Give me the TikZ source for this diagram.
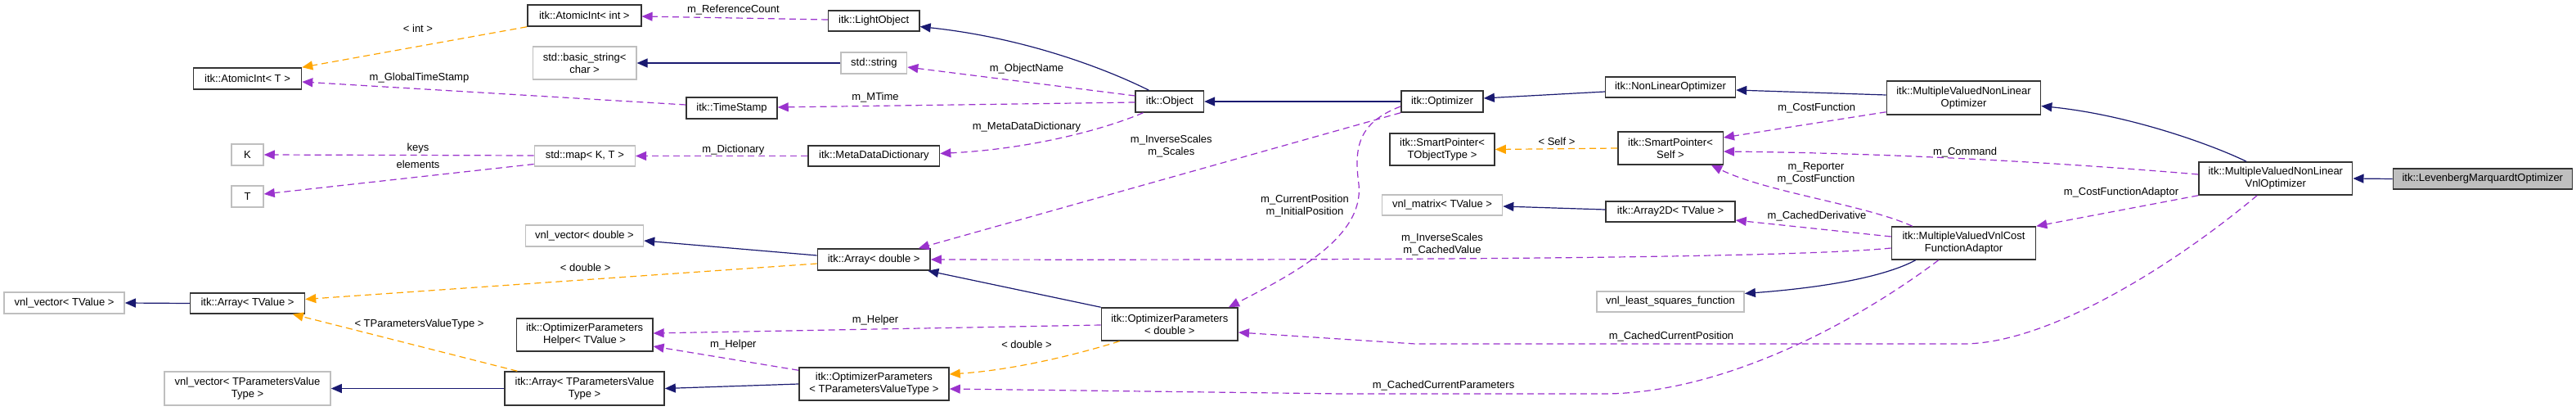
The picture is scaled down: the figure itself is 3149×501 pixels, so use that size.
\documentclass[tikz,border=0pt]{standalone}
\usepackage{fontspec}
\setmainfont{Liberation Sans}
\usetikzlibrary{arrows.meta,calc}
\definecolor{herencia}{HTML}{191970}
\definecolor{plantilla}{HTML}{FFA500}
\definecolor{miembro}{HTML}{9A32CD}
\definecolor{borde}{HTML}{BFBFBF}

\begin{document}
\begin{tikzpicture}[x=1pt, y=-1pt,
    font=\fontsize{13}{15}\selectfont,
    clase/.style={draw=black!80, line width=1.5pt, fill=white, inner sep=0pt, align=center},
    externa/.style={clase, draw=borde},
    actual/.style={clase, fill=borde},
    hereda/.style={-{Triangle[length=13pt,width=11pt]}, herencia, line width=1.2pt},
    instancia/.style={-{Triangle[length=13pt,width=11pt]}, plantilla, line width=1.2pt, dash pattern=on 8pt off 5pt},
    usa/.style={-{Triangle[length=13pt,width=11pt]}, miembro, line width=1.2pt, dash pattern=on 8pt off 5pt},
    etiqueta/.style={inner sep=0pt, align=center}]

    % Fondo
    \fill[white] (0,0) rectangle (3149,501);
    \useasboundingbox (0,0) rectangle (3149,501);

    % Clases
    \node[clase, minimum width=132pt, minimum height=26pt] (atomT) at (302.5,96) {itk::AtomicInt< T >};
    \node[externa, minimum width=39pt, minimum height=26pt] (keyK) at (302.5,189) {K};
    \node[externa, minimum width=39pt, minimum height=26pt] (keyT) at (302.5,240) {T};
    \node[externa, minimum width=147pt, minimum height=26pt] (vnlTV) at (78.6,370) {vnl\_vector< TValue >};
    \node[clase, minimum width=140pt, minimum height=25pt] (arrTV) at (302.5,370.5) {itk::Array< TValue >};
    \node[externa, minimum width=203pt, minimum height=41pt] (vnlTPVT) at (302.5,474.5) {vnl\_vector< TParametersValue\\Type >};

    \node[clase, minimum width=139pt, minimum height=26pt] (atomInt) at (714.3,19) {itk::AtomicInt< int >};
    \node[externa, minimum width=126.5pt, minimum height=40pt] (bstr) at (714.6,77) {std::basic\_string<\\char >};
    \node[clase, minimum width=111pt, minimum height=26pt] (stamp) at (894.5,132) {itk::TimeStamp};
    \node[externa, minimum width=123pt, minimum height=25pt] (smap) at (714.8,190.5) {std::map< K, T >};
    \node[externa, minimum width=144pt, minimum height=26pt] (vnlD) at (714.5,288) {vnl\_vector< double >};
    \node[clase, minimum width=166.5pt, minimum height=40pt] (helper) at (714.6,409) {itk::OptimizerParameters\\Helper< TValue >};
    \node[clase, minimum width=195pt, minimum height=41pt] (arrTPVT) at (714.6,474.5) {itk::Array< TParametersValue\\Type >};

    \node[clase, minimum width=111.4pt, minimum height=25pt] (light) at (1068.2,25.5) {itk::LightObject};
    \node[externa, minimum width=80.4pt, minimum height=26pt] (str) at (1068.4,77) {std::string};
    \node[clase, minimum width=160.4pt, minimum height=25pt] (mdd) at (1068.4,190.5) {itk::MetaDataDictionary};
    \node[clase, minimum width=137.8pt, minimum height=26pt] (arrD) at (1068.2,317) {itk::Array< double >};
    \node[clase, minimum width=183.2pt, minimum height=40pt] (opTPVT) at (1068.4,469) {itk::OptimizerParameters\\< TParametersValueType >};

    \node[clase, minimum width=83.2pt, minimum height=26pt] (obj) at (1429.8,124) {itk::Object};
    \node[clase, minimum width=166.8pt, minimum height=40pt] (opD) at (1429.8,396) {itk::OptimizerParameters\\< double >};

    \node[clase, minimum width=100.3pt, minimum height=26pt] (opt) at (1763,124) {itk::Optimizer};
    \node[clase, minimum width=128.2pt, minimum height=39pt] (spTO) at (1763,182.5) {itk::SmartPointer<\\TObjectType >};
    \node[externa, minimum width=147.2pt, minimum height=25pt] (vnlM) at (1763,250.5) {vnl\_matrix< TValue >};

    \node[clase, minimum width=158.9pt, minimum height=25pt] (nlo) at (2042,106.5) {itk::NonLinearOptimizer};
    \node[clase, minimum width=128.5pt, minimum height=40pt] (spS) at (2042,181) {itk::SmartPointer<\\Self >};
    \node[clase, minimum width=158pt, minimum height=25pt] (arr2D) at (2042,258.5) {itk::Array2D< TValue >};
    \node[externa, minimum width=180.3pt, minimum height=25pt] (lsf) at (2042,368.5) {vnl\_least\_squares\_function};

    \node[clase, minimum width=188.2pt, minimum height=41pt] (mvnlo) at (2400.5,119.5) {itk::MultipleValuedNonLinear\\Optimizer};
    \node[clase, minimum width=176.1pt, minimum height=40pt] (adapt) at (2400.5,297) {itk::MultipleValuedVnlCost\\FunctionAdaptor};
    \node[clase, minimum width=187.8pt, minimum height=40pt] (vnlopt) at (2781.8,218) {itk::MultipleValuedNonLinear\\VnlOptimizer};
    \node[actual, minimum width=219pt, minimum height=25pt] (lm) at (3034.8,218.5) {itk::LevenbergMarquardtOptimizer};

    % Herencia
    \draw[hereda] ($(obj.north west)+(17,0)$) .. controls (1360,88) and (1260,47) .. ($(light.east)+(0,7)$);
    \draw[hereda] (str.west) -- (bstr.east);
    \draw[hereda] (opt.west) -- (obj.east);
    \draw[hereda] ($(nlo.west)+(0,5.5)$) -- ($(opt.east)+(0,-4)$);
    \draw[hereda] ($(mvnlo.west)+(0,-3.5)$) -- ($(nlo.east)+(0,3.5)$);
    \draw[hereda] ($(vnlopt.north west)+(59,0)$) .. controls (2700,175) and (2600,140) .. ($(mvnlo.east)+(0,10)$);
    \draw[hereda] (lm.west) -- (vnlopt.east);
    \draw[hereda] ($(arrD.west)+(0,-5)$) -- ($(vnlD.east)+(0,6)$);
    \draw[hereda] (opD.north west) -- ($(arrD.south east)+(-3.5,0)$);
    \draw[hereda] (arrTV.west) -- (vnlTV.east);
    \draw[hereda] (arrTPVT.west) -- (vnlTPVT.east);
    \draw[hereda] (opTPVT.west) -- (arrTPVT.east);
    \draw[hereda] ($(arr2D.west)+(0,-2.5)$) -- ($(vnlM.east)+(0,1.5)$);
    \draw[hereda] ($(adapt.south west)+(30,0)$) .. controls (2300,340) and (2220,352) .. ($(lsf.east)+(0,-10)$);

    % Plantillas
    \draw[instancia] (atomInt.south west) -- (atomT.north east);
    \draw[instancia] ($(arrD.west)+(0,5)$) -- ($(arrTV.east)+(0,-5)$);
    \draw[instancia] ($(arrTPVT.north west)+(16,0)$) -- ($(arrTV.south east)+(-15.5,0)$);
    \draw[instancia] (spS.west) -- (spTO.east);
    \draw[instancia] ($(opD.south west)+(23,0)$) .. controls (1320,432) and (1240,452) .. ($(opTPVT.east)+(0,-12)$);

    % Miembros
    \draw[usa] ($(light.west)+(0,-1.5)$) -- ($(atomInt.east)+(0,1)$);
    \draw[usa] ($(stamp.west)+(0,-4)$) -- ($(atomT.east)+(0,4)$);
    \draw[usa] ($(obj.west)+(0,-7)$) -- ($(str.east)+(0,5)$);
    \draw[usa] ($(obj.west)+(0,1)$) -- ($(stamp.east)+(0,-1)$);
    \draw[usa] ($(obj.south west)+(10,0)$) .. controls (1350,158) and (1260,182) .. ($(mdd.east)+(0,-3)$);
    \draw[usa] (mdd.west) -- (smap.east);
    \draw[usa] ($(smap.west)+(0,-0.5)$) -- (keyK.east);
    \draw[usa] ($(smap.west)+(0,10)$) -- ($(keyT.east)+(0,-3)$);
    \draw[usa] (opt.south west) -- ($(arrD.north east)+(-15,0)$);
    \draw[usa] ($(opt.west)+(0,6)$) .. controls (1660,150) and (1655,180) .. (1661,225) .. controls (1668,290) and (1580,335) .. ($(opD.north east)+(-12,0)$);
    \draw[usa] ($(opD.west)+(0,1)$) -- ($(helper.east)+(0,-2)$);
    \draw[usa] ($(opTPVT.north west)+(0,4)$) -- ($(helper.east)+(0,14)$);
    \draw[usa] ($(mvnlo.south west)+(0,-4)$) -- ($(spS.east)+(0,-13)$);
    \draw[usa] ($(vnlopt.west)+(0,-5)$) .. controls (2500,197) and (2300,187) .. ($(spS.east)+(0,4)$);
    \draw[usa] ($(adapt.north west)+(26,0)$) .. controls (2280,250) and (2160,235) .. ($(spS.south east)+(-15,0)$);
    \draw[usa] ($(adapt.west)+(0,-8)$) -- ($(arr2D.east)+(0,10.5)$);
    \draw[usa] ($(adapt.west)+(0,6)$) .. controls (2200,314) and (1800,318) .. (arrD.east);
    \draw[usa] (vnlopt.south west) -- (adapt.north east);
    \draw[usa] ($(vnlopt.south west)+(72,0)$) .. controls (2650,330) and (2500,420) .. (2400,420) -- (1730,420) -- ($(opD.east)+(0,10)$);
    \draw[usa] ($(adapt.south west)+(58,0)$) .. controls (2260,400) and (2100,481) .. (1960,481) -- (1640,481) -- ($(opTPVT.east)+(0,6)$);

    % Etiquetas
    \node[etiqueta] (lInt) at (511,35) {< int >};
    \node[etiqueta] (lGlobal) at (512.5,95) {m\_GlobalTimeStamp};
    \node[etiqueta] (lKeys) at (511,181) {keys};
    \node[etiqueta] (lElem) at (511,201) {elements};
    \node[etiqueta] (lTPVT) at (512.5,396) {< TParametersValueType >};
    \node[etiqueta] (lRef) at (896.4,12) {m\_ReferenceCount};
    \node[etiqueta] (lDict) at (896.4,183) {m\_Dictionary};
    \node[etiqueta] (lDouble1) at (715.7,327) {< double >};
    \node[etiqueta] (lHelper2) at (896.4,421) {m\_Helper};
    \node[etiqueta] (lHelper1) at (1070,391) {m\_Helper};
    \node[etiqueta] (lMTime) at (1070,119) {m\_MTime};
    \node[etiqueta] (lName) at (1255,84) {m\_ObjectName};
    \node[etiqueta] (lMeta) at (1255,155) {m\_MetaDataDictionary};
    \node[etiqueta] (lDouble2) at (1255,421) {< double >};
    \node[etiqueta] (lScales) at (1431.8,179) {m\_InverseScales\\m\_Scales};
    \node[etiqueta] (lPos) at (1595,251.5) {m\_CurrentPosition\\m\_InitialPosition};
    \node[etiqueta] (lSelf) at (1903,173) {< Self >};
    \node[etiqueta] (lCached) at (1763,298.5) {m\_InverseScales\\m\_CachedValue};
    \node[etiqueta] (lCurPos) at (2043,411) {m\_CachedCurrentPosition};
    \node[etiqueta] (lCurPar) at (1764.6,471) {m\_CachedCurrentParameters};
    \node[etiqueta] (lDeriv) at (2221,264) {m\_CachedDerivative};
    \node[etiqueta] (lCost) at (2220.7,132) {m\_CostFunction};
    \node[etiqueta] (lReporter) at (2220,211.5) {m\_Reporter\\m\_CostFunction};
    \node[etiqueta] (lCommand) at (2402,186) {m\_Command};
    \node[etiqueta] (lAdaptor) at (2593,235) {m\_CostFunctionAdaptor};
\end{tikzpicture}
\end{document}
